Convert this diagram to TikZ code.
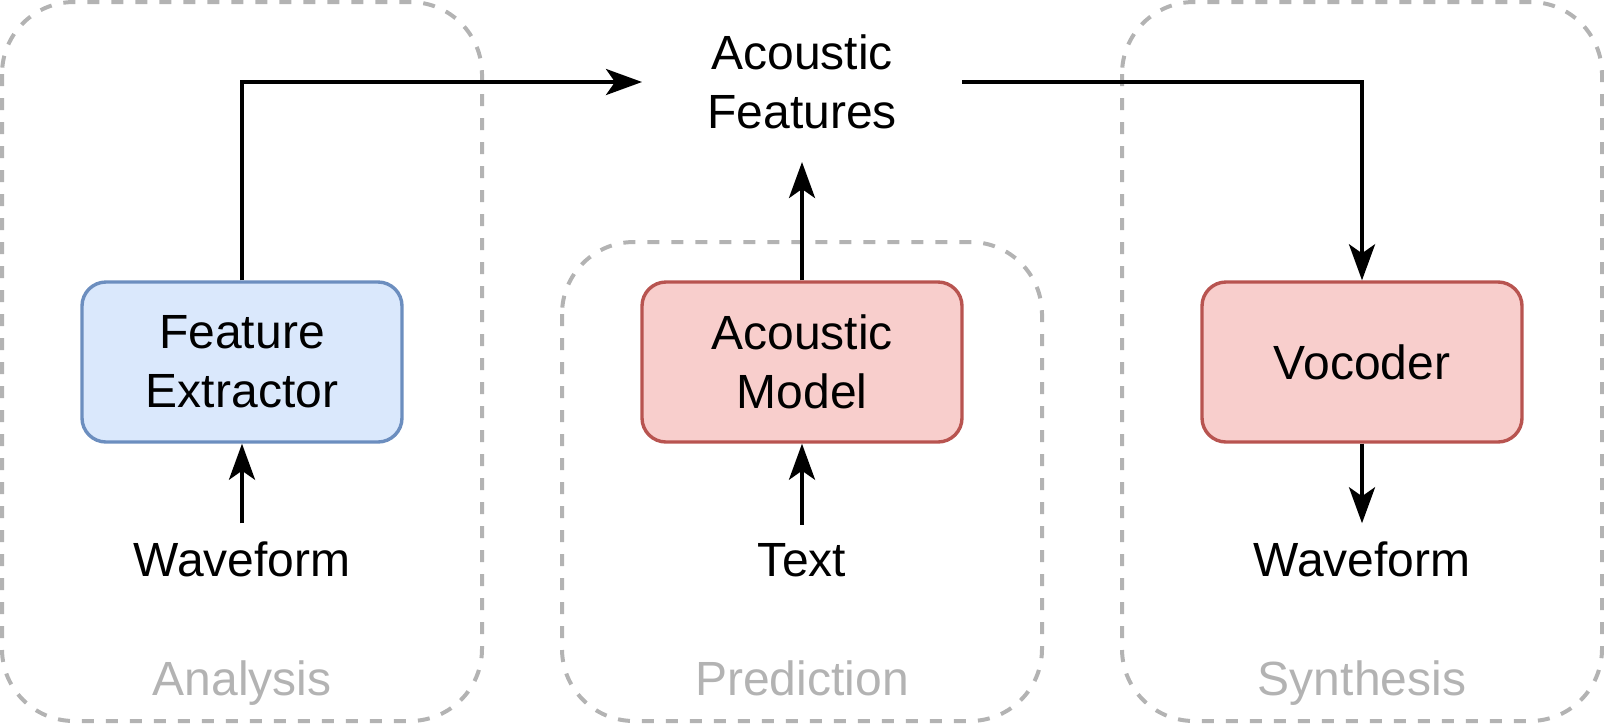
\documentclass[tikz,border=0pt]{standalone}
\usepackage{fontspec}
\setmainfont{Liberation Sans}
\usetikzlibrary{arrows.meta}
\definecolor{grp}{HTML}{B3B3B3}
\definecolor{bluefill}{HTML}{DAE8FC}
\definecolor{bluedraw}{HTML}{6C8EBF}
\definecolor{redfill}{HTML}{F8CECC}
\definecolor{reddraw}{HTML}{B85450}
\begin{document}
\begin{tikzpicture}[x=0.5pt,y=-0.5pt,
  grpbox/.style={draw=grp, line width=2pt, dash pattern=on 6pt off 6pt, rounded corners=36pt},
  txt/.style={font=\fontsize{24pt}{29.5pt}\selectfont, align=center},
  procbox/.style={txt, line width=1.7pt, rounded corners=12pt, minimum width=160pt, minimum height=80pt, inner sep=0pt},
  bluebox/.style={procbox, draw=bluedraw, fill=bluefill},
  redbox/.style={procbox, draw=reddraw, fill=redfill},
  iotext/.style={txt, anchor=base, inner sep=9pt, outer sep=0pt},
  grplabel/.style={txt, text=grp, anchor=base},
  conn/.style={draw=black, line width=2pt, -{Stealth[length=18pt,width=13pt,inset=4.5pt]}}
]
\useasboundingbox (0,0) rectangle (1604,724);
% group boxes
\draw[grpbox] (2,2) rectangle (482,721);
\draw[grpbox] (562,242) rectangle (1042,721);
\draw[grpbox] (1122,2) rectangle (1602,721);
\node[grplabel] (lana) at (242,695) {Analysis};
\node[grplabel] (lpre) at (802,695) {Prediction};
\node[grplabel] (lsyn) at (1362,695) {Synthesis};
% process boxes
\node[bluebox] (fe) at (242,362) {Feature\\Extractor};
\node[redbox] (am) at (802,362) {Acoustic\\Model};
\node[redbox] (voc) at (1362,362) {Vocoder};
\node[txt, minimum width=160pt, minimum height=80pt, inner sep=0pt, outer sep=0pt] (af) at (802,82) {Acoustic\\Features};
% inputs / outputs
\node[iotext] (wav1) at (242,576) {Waveform};
\node[iotext] (text) at (802,576) {Text};
\node[iotext] (wav2) at (1362,576) {Waveform};
% connectors
\draw[conn] (wav1.north) -- (fe.south);
\draw[conn] (text.north) -- (am.south);
\draw[conn] (voc.south) -- (wav2.north);
\draw[conn] (fe.north) |- (af.west);
\draw[conn] (am.north) -- (af.south);
\draw[conn] (af.east) -| (voc.north);
\end{tikzpicture}
\end{document}
